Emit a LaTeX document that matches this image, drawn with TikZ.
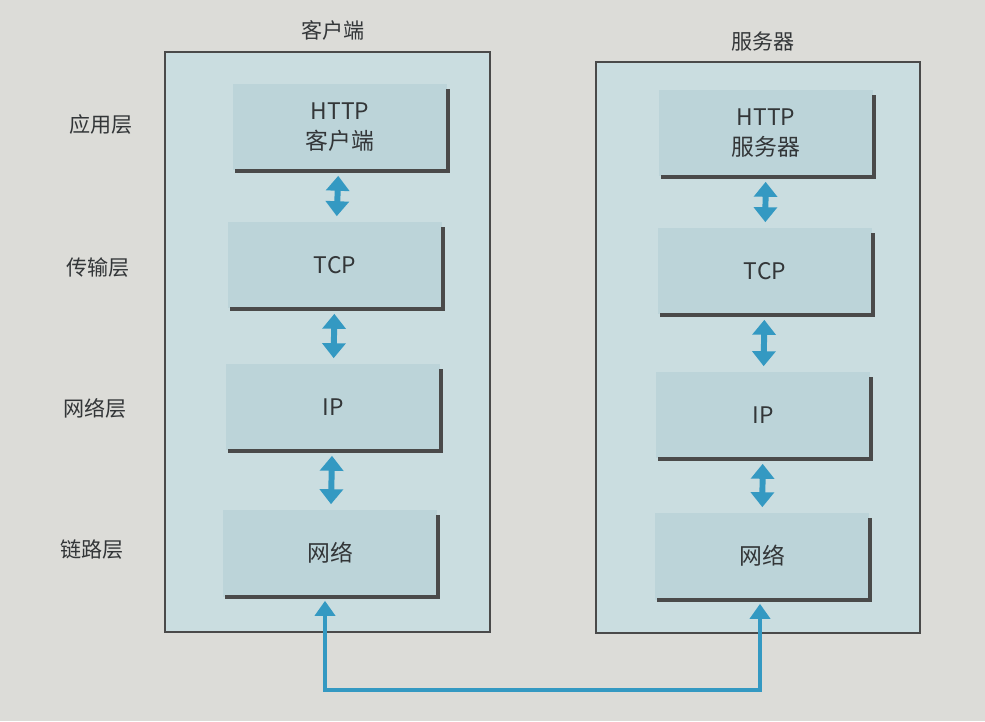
\documentclass[tikz,border=0pt]{standalone}
\usepackage{fontspec}
\setmainfont{Noto Sans CJK SC}
\usetikzlibrary{arrows.meta}
\definecolor{page}{HTML}{DCDCD8}
\definecolor{outerfill}{HTML}{CADDE0}
\definecolor{innerfill}{HTML}{BCD4D9}
\definecolor{edge}{HTML}{4A4A4A}
\definecolor{link}{HTML}{3499C2}
\definecolor{ink}{HTML}{333638}
\tikzset{
  layerbox/.style={fill=innerfill, minimum width=4.3cm, minimum height=1.74cm,
    align=center, text=ink, font=\fontsize{13}{17}\selectfont},
  sidelabel/.style={text=ink, font=\fontsize{12}{14}\selectfont},
  updown/.style={link, line width=6*0.567pt,
    {Triangle[width=23*0.567pt,length=15*0.567pt]}-{Triangle[width=23*0.567pt,length=15*0.567pt]},
    shorten <=5*0.567pt, shorten >=5*0.567pt},
}
\begin{document}
\begin{tikzpicture}[x=0.02cm, y=-0.02cm]
\useasboundingbox (0,0) rectangle (985,721);
\fill[page] (0,0) rectangle (985,721);

% the two hosts
\draw[edge, fill=outerfill, line width=0.6pt] (165,52) rectangle (490,632);
\draw[edge, fill=outerfill, line width=0.6pt] (596,62) rectangle (920,633);
\node[sidelabel] (ctitle) at (333,30) {客户端};
\node[sidelabel] (stitle) at (763,41) {服务器};

% layer names
\node[sidelabel] (app) at (101,124) {应用层};
\node[sidelabel] (tra) at (98,268) {传输层};
\node[sidelabel] (net) at (95,408) {网络层};
\node[sidelabel] (lnk) at (92,550) {链路层};

% client stack
\node[layerbox] (ch) at (340,127) {HTTP\\客户端};
\node[layerbox] (ct) at (335,265) {TCP};
\node[layerbox] (ci) at (333,407) {IP};
\node[layerbox] (cn) at (330,553) {网络};

% server stack
\node[layerbox] (sh) at (766,133) {HTTP\\服务器};
\node[layerbox] (st) at (765,271) {TCP};
\node[layerbox] (si) at (763,415) {IP};
\node[layerbox] (sn) at (762,556) {网络};

% shadow edges
\foreach \b in {ch,ct,ci,cn,sh,st,si,sn}
  \draw[edge, line width=2.4pt] ([xshift=0.06cm]\b.south west) -- (\b.south east) -- ([yshift=-0.12cm]\b.north east);

% links between layers
\draw[updown] (ch) -- (ct);
\draw[updown] (ct) -- (ci);
\draw[updown] (ci) -- (cn);
\draw[updown] (sh) -- (st);
\draw[updown] (st) -- (si);
\draw[updown] (si) -- (sn);

% wire between the hosts
\coordinate (wire) at (760,690);
\draw[link, line width=4*0.567pt,
  {Triangle[width=20*0.567pt,length=15*0.567pt]}-{Triangle[width=20*0.567pt,length=15*0.567pt]},
  shorten <=4*0.567pt, shorten >=4*0.567pt]
  ([xshift=-0.1cm]cn.south) |- (wire) -| ([xshift=-0.04cm]sn.south);
\end{tikzpicture}
\end{document}
